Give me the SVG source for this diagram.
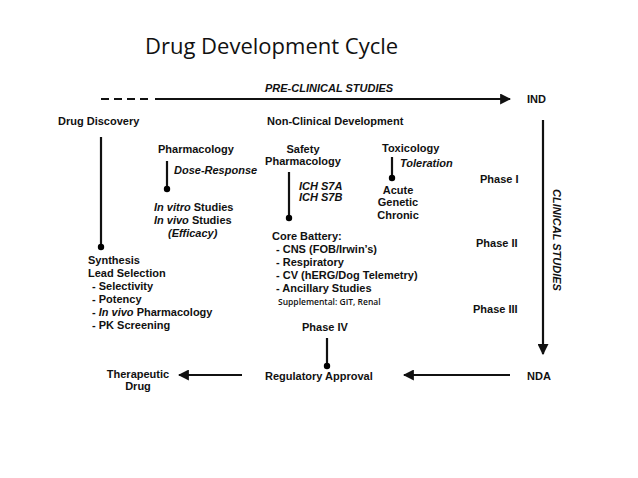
<svg xmlns="http://www.w3.org/2000/svg" width="638" height="478" viewBox="0 0 638 478">
<defs>
<style>
text{font-family:"Liberation Sans",Arial,sans-serif;font-size:11px;font-weight:bold;fill:#111}
.i{font-style:italic}
.t{font-family:"Open Sans","Liberation Sans",sans-serif;font-size:22px;font-weight:normal}
.s{font-family:"Open Sans","Liberation Sans",sans-serif;font-size:8.5px;font-weight:600}
.c{text-anchor:middle}
line{stroke:#111;stroke-width:2.2}
</style>
<marker id="a" viewBox="0 0 10 10" refX="9" refY="5" markerWidth="5" markerHeight="5" orient="auto" markerUnits="strokeWidth"><path d="M0,0L10,5L0,10z" fill="#111"/></marker>
</defs>
<rect width="638" height="478" fill="#fff"/>
<text class="t" x="145" y="54">Drug Development Cycle</text>
<g id="connectors">
<line x1="101" y1="99" x2="152" y2="99" stroke-dasharray="8,5"/>
<line x1="155" y1="99" x2="510" y2="99" marker-end="url(#a)"/>
<line x1="543" y1="120" x2="543" y2="354" marker-end="url(#a)"/>
<line x1="510" y1="375" x2="404" y2="375" marker-end="url(#a)"/>
<line x1="242" y1="375" x2="179" y2="375" marker-end="url(#a)"/>
<line x1="101" y1="137" x2="101" y2="247"/><circle cx="101" cy="247" r="3.2"/>
<line x1="167" y1="161" x2="167" y2="189"/><circle cx="167" cy="189" r="3.2"/>
<line x1="289" y1="172" x2="289" y2="218"/><circle cx="289" cy="218" r="3.2"/>
<line x1="392" y1="157" x2="392" y2="178"/><circle cx="392" cy="178" r="3.2"/>
<line x1="327" y1="338" x2="327" y2="366"/><circle cx="327" cy="366" r="3.2"/>
</g>
<g id="preclinical"><text class="i" x="265" y="92">PRE-CLINICAL STUDIES</text></g>
<g id="ind"><text x="527" y="103">IND</text></g>
<g id="clinical"><text class="i c" transform="translate(553,240) rotate(90)">CLINICAL STUDIES</text></g>
<g id="nda"><text x="527" y="380">NDA</text></g>
<g id="regulatory"><text x="265" y="380">Regulatory Approval</text></g>
<g id="therapeutic"><text class="c" x="138" y="378">Therapeutic</text><text class="c" x="138" y="390">Drug</text></g>
<g id="phase4"><text x="302" y="331">Phase IV</text></g>
<g id="discovery"><text x="58" y="125">Drug Discovery</text></g>
<g id="synthesis"><text x="88" y="264">Synthesis</text><text x="88" y="277">Lead Selection</text>
<text x="92" y="290">- Selectivity</text><text x="92" y="303">- Potency</text>
<text x="92" y="316">- <tspan class="i">In vivo</tspan> Pharmacology</text><text x="92" y="329">- PK Screening</text></g>
<g id="nonclinical"><text x="267" y="125">Non-Clinical Development</text></g>
<g id="pharmacology"><text x="158" y="153">Pharmacology</text><text class="i" x="174" y="174">Dose-Response</text></g>
<g id="studies"><text x="154" y="211"><tspan class="i">In vitro</tspan> Studies</text><text x="154" y="224"><tspan class="i">In vivo</tspan> Studies</text><text class="i" x="168" y="237">(Efficacy)</text></g>
<g id="safety"><text class="c" x="303" y="153">Safety</text><text class="c" x="303" y="165">Pharmacology</text>
<text class="i" x="299" y="190">ICH S7A</text><text class="i" x="299" y="201">ICH S7B</text></g>
<g id="core"><text x="272" y="240">Core Battery:</text><text x="276" y="253">- CNS (FOB/Irwin’s)</text>
<text x="276" y="266">- Respiratory</text><text x="276" y="279">- CV (hERG/Dog Telemetry)</text>
<text x="276" y="292">- Ancillary Studies</text><text class="s" x="278" y="305">Supplemental: GIT, Renal</text></g>
<g id="toxicology"><text x="382" y="152">Toxicology</text><text class="i" x="400" y="167">Toleration</text>
<text class="c" x="398" y="194">Acute</text><text class="c" x="398" y="206">Genetic</text><text class="c" x="398" y="219">Chronic</text></g>
<g id="phases"><text x="480" y="183">Phase I</text><text x="476" y="247">Phase II</text><text x="473" y="313">Phase III</text></g>
</svg>
